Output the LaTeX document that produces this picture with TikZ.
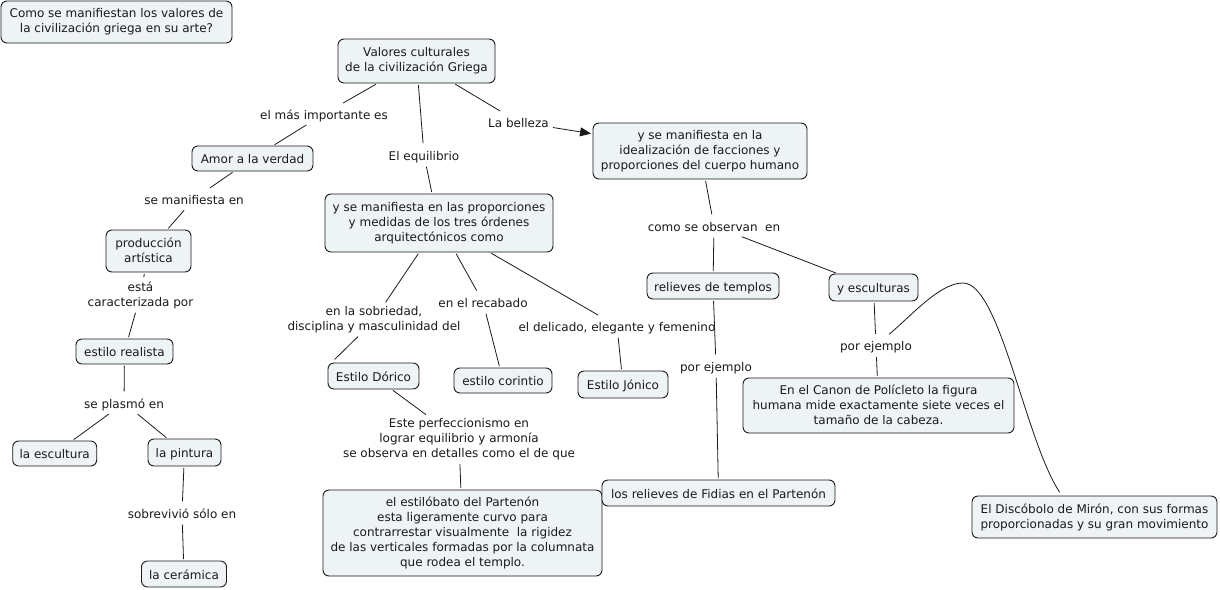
\documentclass[tikz,border=0pt]{standalone}
\usepackage{fontspec}
\setmainfont{DejaVu Sans}
\usetikzlibrary{arrows.meta}
\definecolor{boxfill}{HTML}{EEF3F5}
\definecolor{ink}{HTML}{1A1A1A}
\newcommand{\mapfont}{\fontsize{12}{15}\selectfont}
\newcommand{\mapstrut}{\rule[-2.5pt]{0pt}{15pt}}
\begin{document}
\begin{tikzpicture}[x=1pt,y=-1pt,
  every node/.style={font=\mapfont, text=ink, align=center, execute at begin node=\mapstrut, execute at end node=\mapstrut},
  box/.style={draw=ink, fill=boxfill, rounded corners=6pt, line width=0.9pt, inner sep=0pt},
  lbl/.style={inner sep=2.5pt},
  link/.style={draw=ink, line width=0.8pt, shorten <=1.5pt, shorten >=1.5pt},
  arr/.style={link, -{Triangle[length=11pt,width=9pt]}}
]
\useasboundingbox[fill=white] (0,0) rectangle (1220,589);

% concepts
\node[box, minimum width=231pt, minimum height=42pt] (q) at (116.5,22) {Como se manifiestan los valores de\\la civilización griega en su arte?};
\node[box, minimum width=157pt, minimum height=44pt] (val) at (416.5,61) {Valores culturales\\de la civilización Griega};
\node[box, minimum width=121pt, minimum height=25pt] (amor) at (252.5,158.5) {Amor a la verdad};
\node[box, minimum width=85pt, minimum height=42pt] (prod) at (148.5,251) {producción\\artística};
\node[box, minimum width=97pt, minimum height=25pt] (real) at (124.5,351.5) {estilo realista};
\node[box, minimum width=84pt, minimum height=25pt] (escu) at (54.7,453.5) {la escultura};
\node[box, minimum width=73pt, minimum height=27pt] (pint) at (184.5,452.5) {la pintura};
\node[box, minimum width=85pt, minimum height=26pt] (cera) at (184,574) {la cerámica};
\node[box, minimum width=228pt, minimum height=58pt] (prop) at (439,223) {y se manifiesta en las proporciones\\y medidas de los tres órdenes\\arquitectónicos como};
\node[box, minimum width=91pt, minimum height=26pt] (dor) at (373.5,376) {Estilo Dórico};
\node[box, minimum width=98pt, minimum height=25pt] (cor) at (503,380.5) {estilo corintio};
\node[box, minimum width=90pt, minimum height=27pt] (jon) at (623,384.5) {Estilo Jónico};
\node[box, minimum width=279pt, minimum height=86pt] (esti) at (462.5,533) {el estilóbato del Partenón\\esta ligeramente curvo para\\contrarrestar visualmente\ \ la rigidez\\de las verticales formadas por la columnata\\que rodea el templo.};
\node[box, minimum width=214pt, minimum height=56pt] (ideal) at (700,151) {y se manifiesta en la\\idealización de facciones y\\proporciones del cuerpo humano};
\node[box, minimum width=132pt, minimum height=26pt] (reli) at (713,286) {relieves de templos};
\node[box, minimum width=89pt, minimum height=27pt] (escs) at (873.5,287.5) {y esculturas};
\node[box, minimum width=271pt, minimum height=55pt] (canon) at (878.5,405.5) {En el Canon de Polícleto la figura\\humana mide exactamente siete veces el\\tamaño de la cabeza.};
\node[box, minimum width=233pt, minimum height=26pt] (fid) at (718.5,493) {los relieves de Fidias en el Partenón};
\node[box, minimum width=245pt, minimum height=42pt] (disco) at (1094.5,517) {El Discóbolo de Mirón, con sus formas\\proporcionadas y su gran movimiento};

% linking phrases
\node[lbl] (l1) at (324,114) {el más importante es};
\node[lbl] (l2) at (424,155) {El equilibrio};
\node[lbl] (l3) at (518.5,122) {La belleza};
\node[lbl] (l4) at (194,199) {se manifiesta en};
\node[lbl] (l5) at (140.5,295) {está\\caracterizada por};
\node[lbl] (l6) at (124,403) {se plasmó en};
\node[lbl] (l7) at (182,513) {sobrevivió sólo en};
\node[lbl] (l8) at (374,319.5) {en la sobriedad,\\disciplina y masculinidad del};
\node[lbl] (l9) at (483,302) {en el recabado};
\node[lbl] (l10) at (617,326) {el delicado, elegante y femenino};
\node[lbl] (l11) at (459,439) {Este perfeccionismo en\\lograr equilibrio y armonía\\se observa en detalles como el de que};
\node[lbl] (l12) at (714,226) {como se observan\ \ en};
\node[lbl] (l13) at (716,366) {por ejemplo};
\node[lbl] (l14) at (876,345.5) {por ejemplo};

% connectors
\draw[link] (val) -- (l1);
\draw[link] (l1) -- (amor);
\draw[link] (val) -- (l2);
\draw[link] (l2) -- ([xshift=-7pt]prop.north);
\draw[link] (val) -- (l3);
\draw[arr] (l3) -- (ideal);
\draw[link] (amor) -- (l4);
\draw[link] (l4) -- (prod);
\draw[link] (prod) -- (l5);
\draw[link] (l5) -- (real);
\draw[link] (real) -- (l6);
\draw[link] (l6) -- (escu);
\draw[link] (l6) -- (pint);
\draw[link] (pint) -- (l7);
\draw[link] (l7) -- (cera);
\draw[link] (prop) -- (l8);
\draw[link] ([xshift=-15pt]l8.south) -- ([xshift=6pt,yshift=2pt]dor.north west);
\draw[link] (prop) -- (l9);
\draw[link] (l9) -- (cor);
\draw[link] (prop) -- (l10);
\draw[link] (l10) -- (jon);
\draw[link] (dor) -- (l11);
\draw[link] (l11) -- (esti);
\draw[link] (ideal) -- (l12);
\draw[link] (l12) -- (reli);
\draw[link] (l12) -- (escs);
\draw[link] (reli) -- (l13);
\draw[link] (l13) -- (fid);
\draw[link] (escs) -- (l14);
\draw[link] (l14) -- (canon);
\coordinate (cpk) at (963,283);
\draw[link] ([xshift=12pt]l14.north) .. controls (913,314) and (940,283) .. (cpk) .. controls (1000,283) and (1025,440) .. ([xshift=-34pt,yshift=2pt]disco.north);
\end{tikzpicture}
\end{document}
